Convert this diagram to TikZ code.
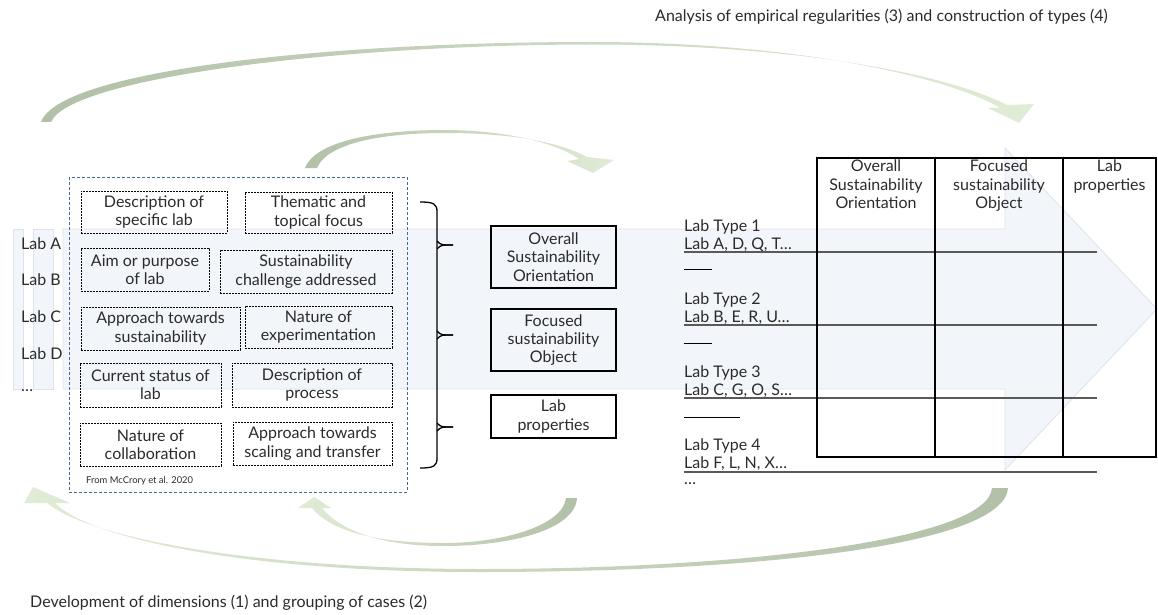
\documentclass[tikz,border=0pt]{standalone}
\usepackage{fontspec}
\setmainfont{Lato}
\usetikzlibrary{positioning}
\definecolor{bandfill}{HTML}{F2F5FA}
\definecolor{bandline}{HTML}{DCE3EE}
\definecolor{arcdark}{HTML}{B3C0A8}
\definecolor{arcmid}{HTML}{EEF2EA}
\definecolor{arclight}{HTML}{E1ECD7}
\definecolor{frameblue}{HTML}{46679C}
\definecolor{ink}{HTML}{2B2B2B}
\newcommand\boxfont{\fontsize{16}{18.3}\selectfont}
\newcommand\titlefont{\fontsize{16}{18}\selectfont}
\tikzset{
    band/.style={fill=bandfill,draw=bandline,line width=0.8pt},
    arc dark left/.style={left color=arcdark,middle color=arcmid,right color=arclight},
    arc dark right/.style={left color=arclight,middle color=arcmid,right color=arcdark},
}

\begin{document}
\begin{tikzpicture}[x=1pt,y=-1pt,text=ink,font=\boxfont,
    dim node/.style={draw,dash pattern=on 2pt off 1pt,line width=0.9pt,align=center,inner sep=0pt},
    dimension node/.style={draw,line width=1.4pt,align=center,inner sep=0pt,minimum width=125pt},
    lab node/.style={anchor=west,inner sep=0pt},
    type node/.style={anchor=west,inner sep=0pt},
    head node/.style={anchor=north,align=center,inner sep=0pt},
    underline/.style={draw=black!65,line width=1.2pt},
    brace line/.style={line width=1.3pt}]
\useasboundingbox (0,0) rectangle (1158,615);

% big faint arrow behind everything
\filldraw[band] (63,229) -- (1005,229) -- (1005,148) -- (1157,309) -- (1005,470) -- (1005,389) -- (63,389) -- cycle;
\filldraw[band] (13,229) rectangle (23,389);
\filldraw[band] (33,229) rectangle (53,389);

% curved arrows
\shade[arc dark left] (41,122) .. controls (60,70) and (330,42) .. (590,42) .. controls (820,42) and (962,84) .. (1000,108)
    -- (988,108) -- (1019,123) -- (1034,104) -- (1007,105) .. controls (960,80) and (820,44.5) .. (590,44.5)
    .. controls (335,45) and (70,78) .. (51,122) -- cycle;
\shade[arc dark left] (305,168) .. controls (316,140) and (380,130) .. (445,130) .. controls (510,130) and (560,145) .. (579,159)
    -- (567,161) -- (593,173) -- (614,160) -- (587,157) .. controls (560,142) and (510,133) .. (445,133)
    .. controls (386,133) and (328,142) .. (317,168) -- cycle;
\shade[arc dark right] (1008,488) .. controls (1004,545) and (760,572) .. (480,572) .. controls (250,572) and (92,540) .. (55,503)
    -- (70,503) -- (33,487) -- (24,503) -- (47,503) .. controls (88,537) and (250,569) .. (480,569)
    .. controls (740,569) and (988,540) .. (992,488) -- cycle;
\shade[arc dark right] (577,498) .. controls (575,530) and (510,546) .. (443,546) .. controls (380,546) and (340,530) .. (322,508)
    -- (331,508) -- (314,497) -- (298,508) -- (312,508) .. controls (333,534) and (385,543) .. (443,543)
    .. controls (505,543) and (563,525) .. (566,498) -- cycle;

% labs
\node[lab node] (labA) at (21,244) {Lab A};
\node[lab node] (labB) at (21,280) {Lab B};
\node[lab node] (labC) at (21,317) {Lab C};
\node[lab node] (labD) at (21,354) {Lab D};
\node[lab node] (labE) at (21,391) {…};

% dimensions from McCrory
\draw[frameblue,line width=0.8pt,dash pattern=on 3pt off 2pt] (69,177) rectangle (407,492);
\node[dim node,minimum width=146pt,minimum height=42pt] (describe) at (154,212) {Description of\\specific lab};
\node[dim node,minimum width=147pt,minimum height=41pt] (thematic) at (318.5,212.5) {Thematic and\\topical focus};
\node[dim node,minimum width=128pt,minimum height=43pt] (aim) at (145,269.5) {Aim or purpose\\of lab};
\node[dim node,minimum width=172pt,minimum height=43pt] (challenge) at (306,271.5) {Sustainability\\challenge addressed};
\node[dim node,minimum width=159pt,minimum height=43pt] (approach) at (160.5,328.5) {Approach towards\\sustainability};
\node[dim node,minimum width=147pt,minimum height=42pt] (experiment) at (318.5,327) {Nature of\\experimentation};
\node[dim node,minimum width=141pt,minimum height=44pt] (status) at (150.5,385) {Current status of\\lab};
\node[dim node,minimum width=160pt,minimum height=44pt] (process) at (312,385) {Description of\\process};
\node[dim node,minimum width=141pt,minimum height=43pt] (collab) at (150.5,444.5) {Nature of\\collaboration};
\node[dim node,minimum width=159pt,minimum height=43pt] (scaling) at (312.5,443.5) {Approach towards\\scaling and transfer};
\node[anchor=west,inner sep=0pt,font=\fontsize{9.4}{11}\selectfont] (source) at (86,481) {From McCrory et al. 2020};

% brace
\draw[brace line] (420,202) .. controls (434,202) and (437,204) .. (437,212) -- (437,458) .. controls (437,466) and (434,468) .. (420,468);
\foreach \y in {245,335,427} {
    \draw[brace line] (437,\y-4) .. controls (441,\y) .. (453,\y);
    \draw[brace line] (437,\y+4) .. controls (441,\y) .. (453,\y);
}

% dimensions
\node[dimension node,minimum height=62pt] (orient) at (553.5,257) {Overall\\Sustainability\\Orientation};
\node[dimension node,minimum height=62pt] (object) at (553.5,340) {Focused\\sustainability\\Object};
\node[dimension node,minimum height=43pt] (props) at (553.5,416.5) {Lab\\properties};

% lab types
\node[type node] (type1) at (684,227) {Lab Type 1};
\node[type node] (cases1) at (684,245) {Lab A, D, Q, T…};
\node[type node] (type2) at (684,300) {Lab Type 2};
\node[type node] (cases2) at (684,318) {Lab B, E, R, U…};
\node[type node] (type3) at (684,373) {Lab Type 3};
\node[type node] (cases3) at (684,391) {Lab C, G, O, S…};
\node[type node] (type4) at (684,446) {Lab Type 4};
\node[type node] (cases4) at (684,464) {Lab F, L, N, X…};
\node[type node] (more) at (684,484) {…};
\draw[underline] (684,252) -- (1097,252);
\draw[underline] (684,325) -- (1097,325);
\draw[underline] (684,398) -- (1097,398);
\draw[underline] (684,472) -- (1097,472);
\draw[line width=1pt] (684,269) -- (712,269);
\draw[line width=1pt] (684,343) -- (712,343);
\draw[line width=1pt] (684,417) -- (740,417);

% table
\draw[line width=1.2pt] (817,158) rectangle (1156,457);
\draw[line width=1.2pt] (935,158) -- (935,457);
\draw[line width=1.2pt] (1063,158) -- (1063,457);
\node[head node] (head1) at (876,160) {Overall\\Sustainability\\Orientation};
\node[head node] (head2) at (999,160) {Focused\\sustainability\\Object};
\node[head node] (head3) at (1109.5,160) {Lab\\properties};

% captions
\node[anchor=east,inner sep=0pt,font=\titlefont] (analysis) at (1108,17) {Analysis of empirical regularities (3) and construction of types (4)};
\node[anchor=west,inner sep=0pt,font=\titlefont] (development) at (30,603) {Development of dimensions (1) and grouping of cases (2)};
\end{tikzpicture}
\end{document}
